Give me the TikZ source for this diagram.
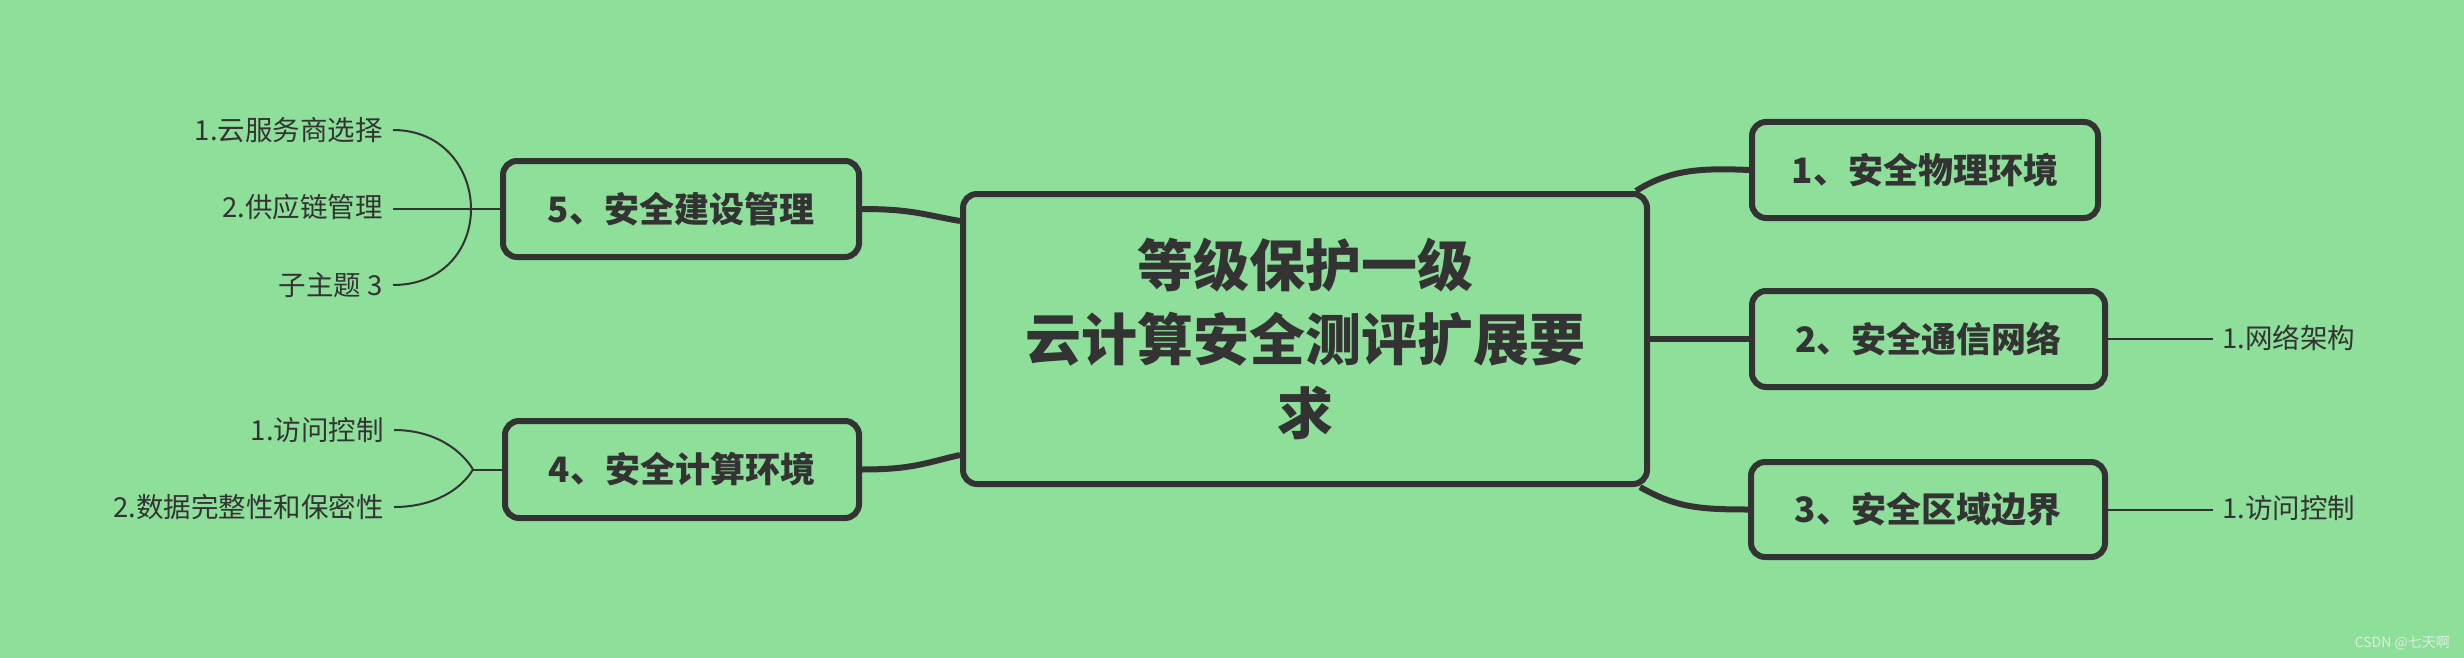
\documentclass[tikz,border=0pt]{standalone}
\usepackage{fontspec}
\usetikzlibrary{calc}
\setmainfont{Noto Sans CJK SC}
\definecolor{bg}{RGB}{142,223,154}
\definecolor{ink}{RGB}{51,51,51}
\definecolor{wm}{RGB}{225,235,225}
\tikzset{
  box/.style={draw=ink, line width=6pt, rounded corners=14pt, fill=bg, text=ink, inner sep=0pt, align=center, font=\fontsize{35}{42}\selectfont\bfseries},
  central/.style={box, font=\fontsize{56}{74}\selectfont\bfseries},
  leaf/.style={text=ink, inner sep=0pt, font=\fontsize{27.5}{31}\selectfont},
  main/.style={draw=ink, line width=6pt},
  thin/.style={draw=ink, line width=2pt}
}
\begin{document}
\begin{tikzpicture}[x=1pt,y=-1pt]
\useasboundingbox[fill=bg] (0,0) rectangle (2464,658);

% central topic
\node[central, minimum width=684pt, minimum height=290pt] (c) at (1305,339)
  {等级保护一级\\云计算安全测评扩展要\\求};

% main topics
\node[box, minimum width=346pt, minimum height=96pt] (b1) at (1925,170) {1、安全物理环境};
\node[box, minimum width=353pt, minimum height=96pt] (b2) at (1928.5,339) {2、安全通信网络};
\node[box, minimum width=354pt, minimum height=95pt] (b3) at (1928,509.5) {3、安全区域边界};
\node[box, minimum width=354pt, minimum height=97pt] (b4) at (682,469.5) {4、安全计算环境};
\node[box, minimum width=356pt, minimum height=96pt] (b5) at (681,209) {5、安全建设管理};

% leaves right
\node[leaf, anchor=west] (l21) at (2222,338) {1.网络架构};
\node[leaf, anchor=west] (l31) at (2222,508) {1.访问控制};

% leaves left of box 5
\node[leaf, anchor=east] (l51) at (383,130) {1.云服务商选择};
\node[leaf, anchor=east] (l52) at (383,207) {2.供应链管理};
\node[leaf, anchor=east] (l53) at (383,285) {子主题 3};

% leaves left of box 4
\node[leaf, anchor=east] (l41) at (384,430) {1.访问控制};
\node[leaf, anchor=east] (l42) at (384,507) {2.数据完整性和保密性};

% junction points
\coordinate (j5) at ($(b5.west)+(-29,0)$);
\coordinate (j4) at ($(b4.west)+(-29,0)$);

% main connectors
\draw[main] ($(c.north east)+(-14,0)$) .. controls ($(c.north east)+(20,-22)$) and ($(b1.west)+(-45,-2)$) .. (b1.west);
\draw[main] (c.east) -- (b2.west);
\draw[main] ($(c.south east)+(-10,0)$) .. controls ($(c.south east)+(25,20)$) and ($(b3.west)+(-50,0)$) .. (b3.west);
\draw[main] (b5.east) .. controls ($(b5.east)+(50,0)$) and ($(c.north west)+(-35,24)$) .. ($(c.north west)+(0,30)$);
\draw[main] (b4.east) .. controls ($(b4.east)+(50,0)$) and ($(c.south west)+(-35,-24)$) .. ($(c.south west)+(0,-32)$);

% thin leaf connectors
\draw[thin] (b2.east) -- ($(b2.east -| l21.west)+(-9,0)$);
\draw[thin] (b3.east) -- ($(b3.east -| l31.west)+(-9,0)$);

\draw[thin] (b5.west) -- (j5);
\draw[thin] ($(l51.east)+(10,0)$) .. controls ($(l51.east)+(60,0)$) and ($(j5)+(0,-40)$) .. (j5);
\draw[thin] ($(j5 -| l52.east)+(10,0)$) -- (j5);
\draw[thin] ($(l53.east)+(10,0)$) .. controls ($(l53.east)+(60,0)$) and ($(j5)+(0,40)$) .. (j5);

\draw[thin] (b4.west) -- (j4);
\draw[thin] ($(l41.east)+(10,0)$) .. controls ($(l41.east)+(50,0)$) and ($(j4)+(-12,-20)$) .. (j4);
\draw[thin] ($(l42.east)+(10,0)$) .. controls ($(l42.east)+(50,0)$) and ($(j4)+(-12,20)$) .. (j4);

% watermark
\node[text=wm, inner sep=0pt, anchor=east, font=\fontsize{14}{16}\selectfont] (wmk) at (2450,643) {CSDN @七天啊};
\end{tikzpicture}
\end{document}
